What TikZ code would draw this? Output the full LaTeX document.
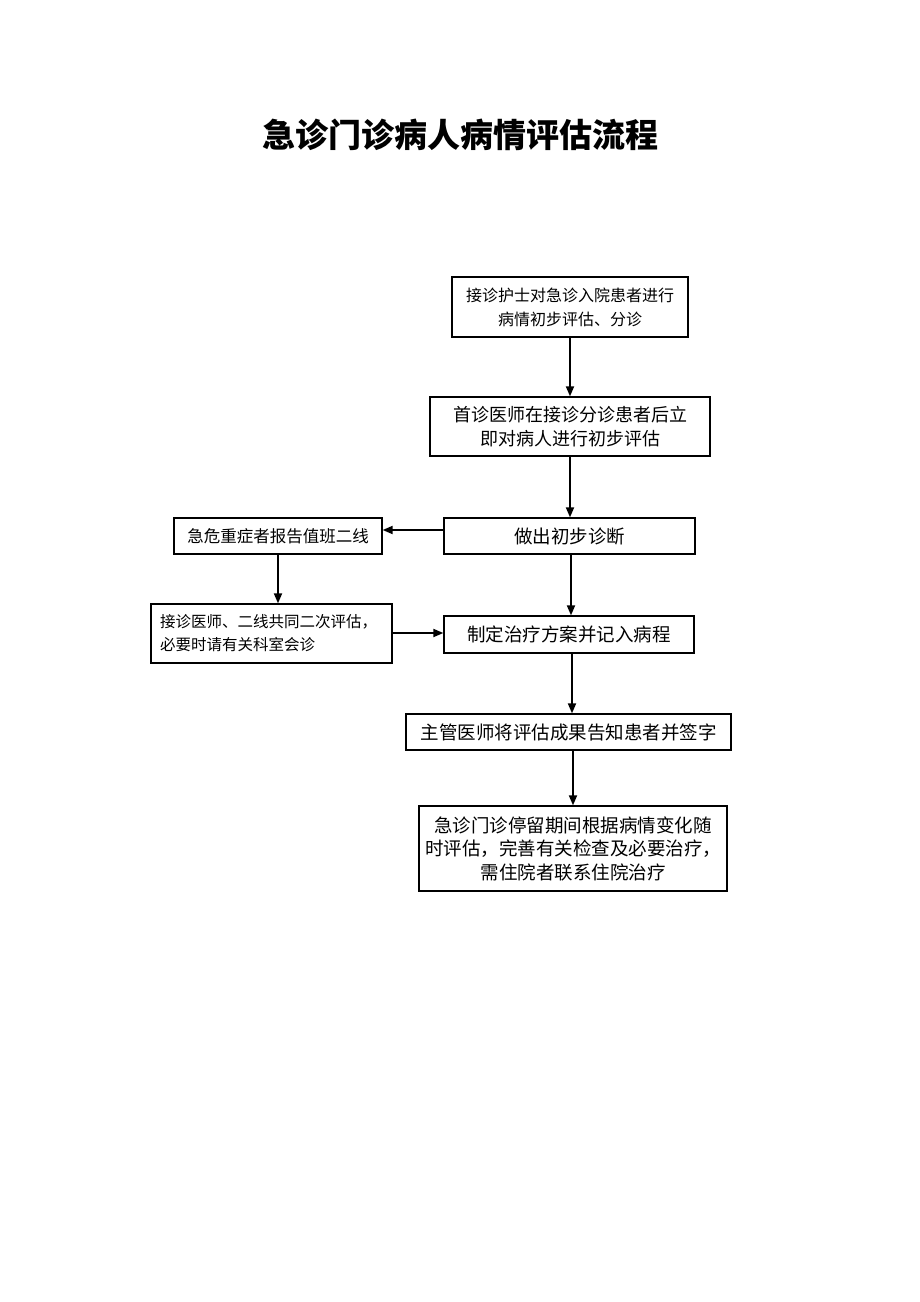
\documentclass[tikz,border=0pt]{standalone}
\usepackage{fontspec}
\newfontfamily\cjk{Noto Sans CJK SC}
\usetikzlibrary{arrows.meta}
\begin{document}
\begin{tikzpicture}
	[x=1pt,y=-1pt,
	flowbox/.style={draw,line width=1.3pt,inner sep=0pt,align=center,font=\cjk},
	flowarrow/.style={line width=1.8pt,-{Triangle[length=10pt,width=8pt]}}]
	\useasboundingbox (0,0) rectangle (920,1302);
	\node[font=\cjk\bfseries\fontsize{33}{40}\selectfont] (title) at (460,135) {急诊门诊病人病情评估流程};
	% main column
	\node[flowbox,minimum width=236,minimum height=60,font=\cjk\fontsize{16}{24}\selectfont] (receive) at (570,307)
		{接诊护士对急诊入院患者进行\\病情初步评估、分诊};
	\node[flowbox,minimum width=280,minimum height=59,font=\cjk\fontsize{18}{24}\selectfont] (first) at (570,426.5)
		{首诊医师在接诊分诊患者后立\\即对病人进行初步评估};
	\node[flowbox,minimum width=251,minimum height=36,font=\cjk\fontsize{18.5}{24}\selectfont] (diagnose) at (569.5,536)
		{做出初步诊断};
	\node[flowbox,minimum width=250,minimum height=37,font=\cjk\fontsize{18.5}{24}\selectfont] (plan) at (569,634.5)
		{制定治疗方案并记入病程};
	\node[flowbox,minimum width=325,minimum height=36,font=\cjk\fontsize{18.5}{24}\selectfont] (inform) at (568.5,732)
		{主管医师将评估成果告知患者并签字};
	\node[flowbox,minimum width=308,minimum height=85,font=\cjk\fontsize{18.5}{23.5}\selectfont] (observe) at (573,848.5)
		{急诊门诊停留期间根据病情变化随\\时评估，完善有关检查及必要治疗，\\需住院者联系住院治疗};
	% side column
	\node[flowbox,minimum width=208,minimum height=36,font=\cjk\fontsize{16.5}{24}\selectfont] (report) at (278,536)
		{急危重症者报告值班二线};
	\node[flowbox,minimum width=241,minimum height=59,align=left,text width=223,font=\cjk\fontsize{15.5}{23}\selectfont] (consult) at (271.5,633.5)
		{接诊医师、二线共同二次评估，\\必要时请有关科室会诊};
	% connectors
	\draw[flowarrow] (receive.south) -- (first.north);
	\draw[flowarrow] (first.south) -- (first.south |- diagnose.north);
	\draw[flowarrow] ([yshift=6pt]diagnose.west) -- ([yshift=6pt]report.east);
	\draw[flowarrow] (report.south) -- (report.south |- consult.north);
	\draw[flowarrow] ([xshift=1.5pt]diagnose.south) -- ([xshift=1.5pt]diagnose.south |- plan.north);
	\draw[flowarrow] ([yshift=0.5pt]consult.east) -- ([yshift=0.5pt]consult.east -| plan.west);
	\draw[flowarrow] ([xshift=3pt]plan.south) -- ([xshift=3pt]plan.south |- inform.north);
	\draw[flowarrow] (observe.north |- inform.south) -- (observe.north);
\end{tikzpicture}
\end{document}
